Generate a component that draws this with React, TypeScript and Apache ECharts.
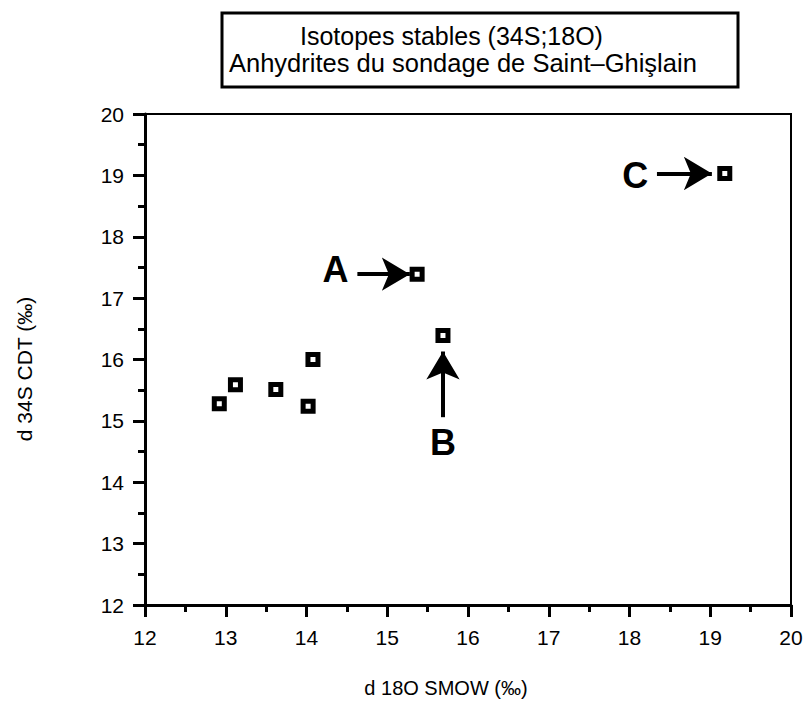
import React, { useEffect, useRef } from "react";
import * as echarts from "echarts";

// Data
const d18O: number[] = [12.92, 13.12, 13.62, 14.08, 14.02, 15.69, 15.37, 19.18];
const d34S: number[] = [15.28, 15.59, 15.51, 16.0, 15.24, 16.39, 17.39, 19.03];

const titleLines = ["Isotopes stables (34S;18O)", "Anhydrites du sondage de Saint–Ghişlain"];
const xName = "d 18O SMOW (‰)";
const yName = "d 34S CDT (‰)";

// Annotation letters and arrows (data units)
const letterNames = ["A", "B", "C"];
const letterX = [14.36, 15.69, 18.07];
const letterY = [17.46, 14.65, 19.0];
const arrowStart: [number, number][] = [[14.63, 17.39], [15.69, 15.06], [18.34, 19.03]];
const arrowEnd: [number, number][] = [[15.28, 17.39], [15.69, 16.13], [19.02, 19.03]];

const FONT = "'Liberation Sans', Arial, Helvetica, sans-serif";

export default function App() {
  const ref = useRef<HTMLDivElement>(null);
  useEffect(() => {
    document.body.style.margin = "0";
    if (!ref.current) return;
    const chart = echarts.init(ref.current, null, { renderer: "svg" });
    const axisCommon = {
      min: 12,
      max: 20,
      interval: 1,
      axisLine: { show: true, lineStyle: { color: "#000", width: 3 } },
      axisTick: { show: true, inside: false, length: 12, lineStyle: { color: "#000", width: 3 } },
      minorTick: { show: true, splitNumber: 2, length: 7, lineStyle: { color: "#000", width: 3 } },
      splitLine: { show: false },
      minorSplitLine: { show: false },
    };
    chart.setOption({
      animation: false,
      backgroundColor: "#fff",
      grid: {
        left: 145,
        right: 16,
        top: 114,
        bottom: 96,
        show: true,
        borderColor: "#000",
        borderWidth: 2,
        backgroundColor: "transparent",
      },
      xAxis: {
        type: "value",
        ...axisCommon,
        axisLabel: { color: "#000", fontSize: 21, fontFamily: FONT, margin: 22 },
      },
      yAxis: {
        type: "value",
        ...axisCommon,
        axisLabel: { color: "#000", fontSize: 21, fontFamily: FONT, margin: 21 },
      },
      series: [
        {
          type: "scatter",
          data: d18O.map((x, i) => [x, d34S[i]]),
          symbol: "rect",
          symbolSize: 10,
          itemStyle: { color: "#fff", borderColor: "#000", borderWidth: 5, opacity: 1 },
          z: 5,
          markLine: {
            silent: true,
            symbol: ["none", "arrow"],
            symbolSize: [25, 28],
            label: { show: false },
            lineStyle: { color: "#000", width: 4, type: "solid" },
            emphasis: { disabled: true },
            data: arrowStart.map((s, i) => [{ coord: s }, { coord: arrowEnd[i] }]),
          },
        },
        {
          type: "scatter",
          data: letterNames.map((n, i) => ({ name: n, value: [letterX[i], letterY[i]] })),
          symbolSize: 0,
          itemStyle: { color: "#000", opacity: 1 },
          label: {
            show: true,
            position: "inside",
            formatter: (p: any) => p.name,
            color: "#000",
            opacity: 1,
            textBorderWidth: 0,
            fontSize: 36,
            fontWeight: "bold",
            fontFamily: FONT,
          },
          z: 6,
        },
      ],
      graphic: [
        {
          type: "rect",
          shape: { x: 222, y: 13, width: 516, height: 74 },
          style: { fill: "#fff", stroke: "#000", lineWidth: 3 },
        },
        {
          type: "text",
          x: 300,
          y: 36,
          style: { text: titleLines[0], font: `25px ${FONT}`, fill: "#000", textAlign: "left", textVerticalAlign: "middle" },
        },
        {
          type: "text",
          x: 229,
          y: 63,
          style: { text: titleLines[1], font: `25.5px ${FONT}`, fill: "#000", textAlign: "left", textVerticalAlign: "middle" },
        },
        {
          type: "text",
          x: 446,
          y: 688,
          style: { text: xName, font: `20px ${FONT}`, fill: "#000", textAlign: "center", textVerticalAlign: "middle" },
        },
        {
          type: "text",
          x: 24,
          y: 369,
          rotation: Math.PI / 2,
          style: { text: yName, font: `21px ${FONT}`, fill: "#000", textAlign: "center", textVerticalAlign: "middle" },
        },
      ],
    });
    return () => chart.dispose();
  }, []);
  return <div ref={ref} style={{ width: 807, height: 701 }} />;
}
